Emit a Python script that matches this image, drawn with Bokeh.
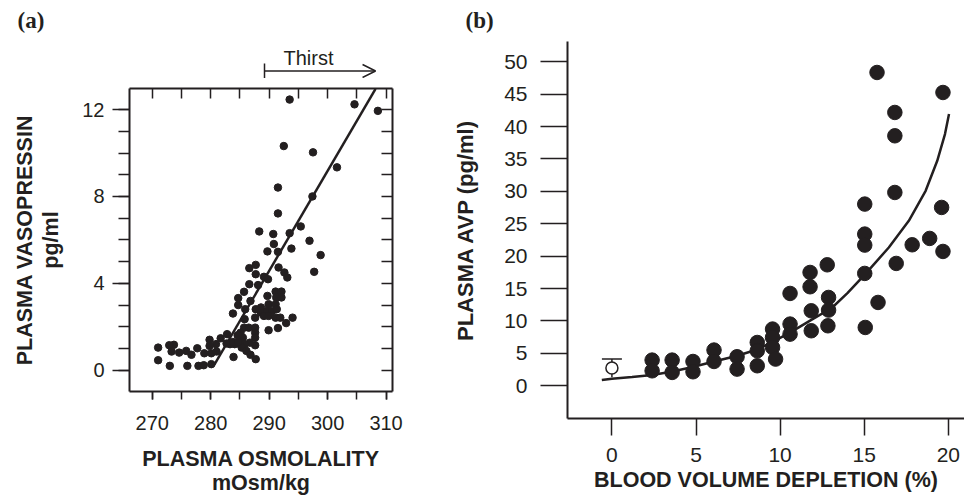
from bokeh.plotting import figure
from bokeh.layouts import row, column
from bokeh.models import (Range1d, LinearAxis, SingleIntervalTicker, FixedTicker,
                          CustomJSTickFormatter, Arrow, TeeHead, OpenHead,
                          Whisker, ColumnDataSource)
from bokeh.core.properties import value
from bokeh.embed import file_html
from bokeh.resources import INLINE

INK = "#231f20"
FONT = "Liberation Sans"
SERIF = "Liberation Serif"

# ---------------- Panel (a) data ----------------
osm = [293.5, 304.6, 308.6, 292.5, 297.5, 301.6, 297.4, 291.5, 291.5, 295.4,
       288.3, 290.7, 293.5, 290.8, 296.9, 289.7, 291.5, 293.8, 298.8, 297.7,
       286.6, 287.7, 287.7, 291.6, 292.6, 293.1, 289.1, 289.8, 288.1, 286.6,
       285.7, 284.7, 284.7, 283.8, 286.8, 285.9, 289.7, 291.1, 292.1, 291.2,
       292.1, 289.9, 291.1, 288.6, 287.7, 288.6, 289.6, 290.5, 291.3, 289.1,
       289.9, 291.1, 291.9, 294.0, 287.6, 285.8, 292.9, 291.5, 289.9, 285.7,
       286.5, 287.6, 285.1, 287.6, 287.6, 285.5, 284.6, 287.6, 286.7, 285.8,
       285.0, 284.1, 283.3, 282.7, 281.7, 280.9, 279.8, 279.8, 278.9, 280.1,
       281.0, 285.3, 286.1, 286.8, 287.7, 283.9, 277.7, 276.7, 275.8, 274.6,
       273.7, 272.9, 273.3, 271.0, 271.0, 273.0, 276.0, 277.9, 278.8, 280.1,
       282.8, 283.8, 284.7]
avp = [12.46, 12.24, 11.94, 10.32, 10.03, 9.34, 8.0, 8.41, 7.22, 6.62,
       6.39, 6.27, 6.31, 5.81, 5.96, 5.47, 5.45, 5.6, 5.3, 4.53,
       4.70, 4.85, 4.42, 4.73, 4.50, 4.27, 4.30, 4.19, 3.92, 3.96,
       3.61, 3.32, 3.0, 2.61, 3.19, 2.81, 3.42, 3.62, 3.62, 3.35,
       3.35, 3.04, 3.04, 2.89, 2.81, 2.65, 2.73, 2.73, 2.81, 2.50,
       2.50, 2.42, 2.42, 2.42, 2.42, 2.35, 2.17, 1.94, 1.84, 1.96,
       1.96, 1.96, 1.73, 1.73, 1.50, 1.50, 1.61, 1.15, 1.27, 1.20,
       1.20, 1.20, 1.20, 1.23, 1.47, 1.20, 1.40, 1.12, 0.78, 0.78,
       0.86, 1.04, 0.89, 0.71, 0.51, 0.61, 1.01, 0.71, 0.89, 0.81,
       1.17, 1.15, 0.86, 1.04, 0.46, 0.20, 0.20, 0.20, 0.23, 0.28,
       1.66, 1.30, 1.30]
reg_x = [280.6, 308.2]
reg_y = [0.25, 12.95]
thirst_start = 289.2
thirst_end = 308.2

# ---------------- Panel (b) data ----------------
bvd = [2.39, 2.39, 3.58, 3.58, 4.82, 4.82, 6.07, 6.07, 7.44, 7.44,
       8.64, 8.64, 8.64, 9.55, 9.55, 9.55, 9.73, 10.59, 10.59, 10.59,
       11.85, 11.85, 11.78, 11.78, 12.8, 12.88, 12.88, 12.84, 15.03, 15.03,
       15.03, 15.03, 15.06, 15.82, 15.76, 16.82, 16.82, 16.82, 16.90, 17.85,
       18.89, 19.68, 19.60, 19.68]
avp_b = [3.96, 2.31, 3.96, 2.06, 3.75, 2.16, 5.51, 3.75, 4.48, 2.57,
         6.68, 5.40, 3.09, 8.75, 7.45, 5.91, 4.12, 14.25, 9.52, 7.97,
         11.57, 8.49, 17.49, 15.28, 18.67, 13.63, 11.68, 9.26, 28.04, 23.41,
         21.71, 17.34, 9.0, 12.86, 48.35, 42.18, 38.58, 29.83, 18.88, 21.76,
         22.74, 45.26, 27.52, 20.73]
ctrl_x = [0.0]
ctrl_y = [2.73]
ctrl_lo = [1.3]
ctrl_hi = [4.12]
fit_x = [-0.6, 0.0, 1.2, 2.4, 3.6, 4.8, 6.07, 7.4, 8.64, 10.0, 10.59, 11.88,
         13.07, 14.0, 15.06, 16.46, 17.65, 18.65, 19.34, 19.8, 20.04]
fit_y = [0.9, 1.1, 1.35, 1.65, 2.2, 2.9, 3.75, 4.6, 5.6, 7.4, 8.2, 10.2,
         12.0, 14.3, 17.24, 21.34, 25.46, 30.09, 34.72, 38.84, 41.93]
b_yticks = [0, 5, 10, 15, 20, 25, 30, 35, 40, 45, 50]
b_xticks = [0, 5, 10, 15, 20]

BLANK = CustomJSTickFormatter(code="return ''")


def style(ax, fs="20px", lw=2):
    ax.axis_line_color = INK
    ax.axis_line_width = lw
    ax.major_tick_line_color = INK
    ax.major_tick_line_width = 1.5
    ax.minor_tick_line_color = INK
    ax.minor_tick_line_width = 1.5
    ax.major_label_text_font = FONT
    ax.major_label_text_font_size = fs
    ax.major_label_text_color = INK
    ax.axis_label_text_font = FONT
    ax.axis_label_text_font_size = "21.5px"
    ax.axis_label_text_font_style = "bold"
    ax.axis_label_text_color = INK
    return ax


def title_axis(label, standoff=0, bounds=None, fs="21.5px"):
    ax = LinearAxis(ticker=FixedTicker(ticks=[]), formatter=BLANK)
    style(ax)
    ax.axis_line_color = None
    ax.major_tick_out = 0; ax.major_tick_in = 0
    ax.minor_tick_out = 0; ax.minor_tick_in = 0
    ax.major_label_standoff = 0
    ax.major_label_text_font_size = "0px"
    ax.axis_label = label
    ax.axis_label_standoff = standoff
    ax.axis_label_text_font_size = fs
    if bounds is not None:
        ax.bounds = bounds
    return ax


def bare(fig):
    fig.outline_line_color = None
    fig.background_fill_color = "white"
    fig.border_fill_color = "white"
    fig.grid.visible = False
    try:
        fig.frame_align = False
    except AttributeError:
        pass
    return fig


# ================= Panel (a) =================
ha = bare(figure(width=440, height=78, x_range=Range1d(244.028, 319.313),
                 y_range=Range1d(78, 0), output_backend="svg", toolbar_location=None,
                 x_axis_location=None, y_axis_location=None, min_border=0))
ha.text(x=[246.94], y=[20], text=["(a)"], text_font=value(SERIF),
        text_font_style="bold", text_font_size="23px", text_align="left",
        text_baseline="middle", text_color=INK)
ha.text(x=[296.73], y=[57], text=["Thirst"], text_font=value(FONT),
        text_font_size="20px", text_align="center", text_baseline="middle",
        text_color=INK)
ha.add_layout(Arrow(start=TeeHead(size=15, line_color=INK, line_width=1.5),
                    end=OpenHead(size=13, line_color=INK, line_width=1.5),
                    x_start=thirst_start, y_start=70.5, x_end=thirst_end, y_end=70.5,
                    line_color=INK, line_width=1.5))

pa = bare(figure(width=440, height=421, x_range=Range1d(266.1, 311.1),
                 y_range=Range1d(-0.98, 12.97), output_backend="svg",
                 toolbar_location=None, x_axis_location=None, y_axis_location=None,
                 min_border_left=129, min_border_right=48, min_border_top=10,
                 min_border_bottom=108))

ax_l = style(LinearAxis(ticker=SingleIntervalTicker(interval=4, num_minor_ticks=4)))
ax_l.major_tick_out = 17; ax_l.major_tick_in = 0
ax_l.minor_tick_out = 11; ax_l.minor_tick_in = 0
ax_l.major_label_standoff = 8
ax_l.axis_label = "pg/ml"
ax_l.axis_label_standoff = 16
pa.add_layout(ax_l, "left")
pa.add_layout(title_axis("PLASMA VASOPRESSIN", 0), "left")

ax_b = style(LinearAxis(ticker=SingleIntervalTicker(interval=10, num_minor_ticks=2)))
ax_b.major_tick_out = 8; ax_b.major_tick_in = 0
ax_b.minor_tick_out = 8; ax_b.minor_tick_in = 0
ax_b.major_label_standoff = 16
pa.add_layout(ax_b, "below")
pa.add_layout(title_axis("PLASMA OSMOLALITY", 14, (266.1, 309.1)), "below")
pa.add_layout(title_axis("mOsm/kg", -3, (266.1, 309.1)), "below")

ax_t = style(LinearAxis(ticker=SingleIntervalTicker(interval=5, num_minor_ticks=0),
                        formatter=BLANK))
ax_t.major_tick_out = 0; ax_t.major_tick_in = 10
ax_t.minor_tick_out = 0; ax_t.minor_tick_in = 0
ax_t.major_label_standoff = 0
ax_t.major_label_text_font_size = "0px"
pa.add_layout(ax_t, "above")

ax_r = style(LinearAxis(ticker=SingleIntervalTicker(interval=1, num_minor_ticks=0),
                        formatter=BLANK))
ax_r.major_tick_out = 0; ax_r.major_tick_in = 11
ax_r.minor_tick_out = 0; ax_r.minor_tick_in = 0
ax_r.major_label_standoff = 0
ax_r.major_label_text_font_size = "0px"
pa.add_layout(ax_r, "right")

pa.line(reg_x, reg_y, line_width=2.5, color=INK)
pa.scatter(osm, avp, size=7.5, color=INK)

# ================= Panel (b) =================
hb = bare(figure(width=524, height=41, x_range=Range1d(0, 524), y_range=Range1d(41, 0),
                 output_backend="svg", toolbar_location=None,
                 x_axis_location=None, y_axis_location=None, min_border=0))
hb.text(x=[25], y=[20], text=["(b)"], text_font=value(SERIF),
        text_font_style="bold", text_font_size="23px", text_align="left",
        text_baseline="middle", text_color=INK)

pb = bare(figure(width=524, height=458, x_range=Range1d(-2.64, 20.96),
                 y_range=Range1d(-5.05, 53.13), output_backend="svg",
                 toolbar_location=None, x_axis_location=None, y_axis_location=None,
                 min_border_left=127, min_border_right=0, min_border_top=0,
                 min_border_bottom=81))

bx_l = style(LinearAxis(ticker=FixedTicker(ticks=b_yticks)), fs="21px")
bx_l.major_tick_out = 27; bx_l.major_tick_in = 0
bx_l.minor_tick_out = 0; bx_l.minor_tick_in = 0
bx_l.major_label_standoff = 13
pb.add_layout(bx_l, "left")
pb.add_layout(title_axis("PLASMA AVP (pg/ml)", 24, (-2.83, 53.13), fs="22px"), "left")

bx_b = style(LinearAxis(ticker=FixedTicker(ticks=b_xticks)), fs="21px")
bx_b.major_tick_out = 17; bx_b.major_tick_in = 0
bx_b.minor_tick_out = 0; bx_b.minor_tick_in = 0
bx_b.major_label_standoff = 12
bx_b.axis_label = "BLOOD VOLUME DEPLETION (%)"
bx_b.axis_label_standoff = 3
pb.add_layout(bx_b, "below")

wsrc = ColumnDataSource(data=dict(base=ctrl_x, lower=ctrl_lo, upper=ctrl_hi))
pb.add_layout(Whisker(source=wsrc, base="base", lower="lower", upper="upper",
                      dimension="height", line_color=INK, line_width=1.5,
                      upper_head=TeeHead(size=20, line_color=INK, line_width=1.5),
                      lower_head=None))
pb.line(fit_x, fit_y, line_width=2.5, color=INK)
pb.scatter(ctrl_x, ctrl_y, size=12, fill_color="white", line_color=INK, line_width=1.5)
pb.scatter(bvd, avp_b, size=14.5, color=INK)

layout = row(column(ha, pa), column(hb, pb))
open("out.html", "w").write(file_html(layout, INLINE))
